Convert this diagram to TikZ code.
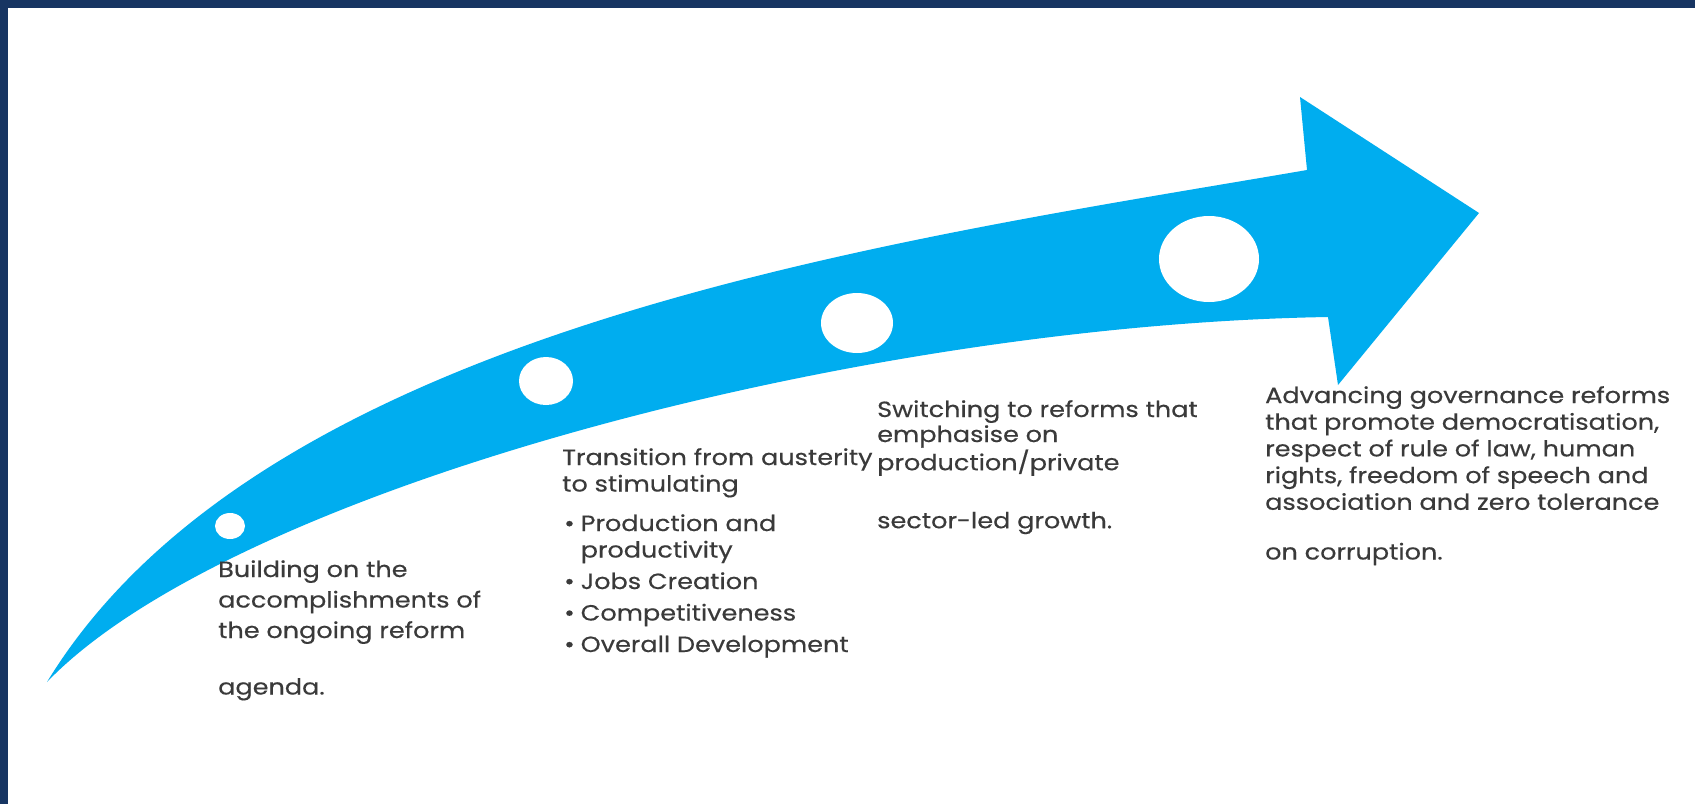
\documentclass[tikz,border=0pt]{standalone}
\usepackage{fontspec}
\usepackage{graphicx}
\setmainfont{Poppins}[FakeStretch=1.16,FakeBold=0.4]
\definecolor{navy}{HTML}{173562}
\definecolor{arrowblue}{HTML}{00ADEF}
\definecolor{txt}{HTML}{3A3A3A}
\newcommand\bulmark{\makebox[18.5pt][l]{\hspace{2pt}\textbullet}}
\newcommand\bulgap{\hspace{18.5pt}}
\tikzset{
  blocktext/.style={anchor=base west, inner sep=0pt, text=txt},
  hole/.style={fill=white, draw=none},
}
\begin{document}
\begin{tikzpicture}[x=1pt,y=-1pt]
\useasboundingbox (0,0) rectangle (1695,804);
\fill[white] (0,0) rectangle (1695,804);
% frame
\fill[navy] (0,0) rectangle (1695,8);
\fill[navy] (0,0) rectangle (8,804);
% curved arrow
\fill[arrowblue] (47,682) .. controls (265,325) and (900,240) .. (1307,170)
  -- (1300,97) -- (1479,213) -- (1338,385) -- (1328,317)
  .. controls (850,325) and (230,492) .. (47,682) -- cycle;
% holes
\fill[hole] (230,526) ellipse [x radius=15pt, y radius=13pt];
\fill[hole] (546,381) ellipse [x radius=27pt, y radius=24pt];
\fill[hole] (857,323) ellipse [x radius=36pt, y radius=30pt];
\fill[hole] (1209,259) ellipse [x radius=50pt, y radius=43pt];
% texts
\node[blocktext, font=\fontsize{22}{30.5}\selectfont] (t1) at (218,577)
  {\begin{tabular}[t]{@{}l@{}}Building on the\\ accomplishments of\\ the ongoing reform\\[26pt] agenda.\end{tabular}};
\node[blocktext, font=\fontsize{22}{26.5}\selectfont] (t2) at (562,465)
  {\begin{tabular}[t]{@{}l@{}}Transition from austerity\\ to stimulating\\[13pt]
   \bulmark Production and\\ \bulgap productivity\\[5pt]
   \bulmark Jobs Creation\\[5pt]
   \bulmark Competitiveness\\[5pt]
   \bulmark Overall Development\end{tabular}};
\node[blocktext, font=\fontsize{22}{25}\selectfont] (t3) at (877,417)
  {\begin{tabular}[t]{@{}l@{}}Switching to reforms that\\ emphasise on\\ production/private\\[33pt] sector-led growth.\end{tabular}};
\node[blocktext, font=\fontsize{22}{26.7}\selectfont] (t4) at (1265,403)
  {\begin{tabular}[t]{@{}l@{}}Advancing governance reforms\\ that promote democratisation,\\ respect of rule of law, human\\ rights, freedom of speech and\\ association and zero tolerance\\[23pt] on corruption.\end{tabular}};
\end{tikzpicture}
\end{document}
